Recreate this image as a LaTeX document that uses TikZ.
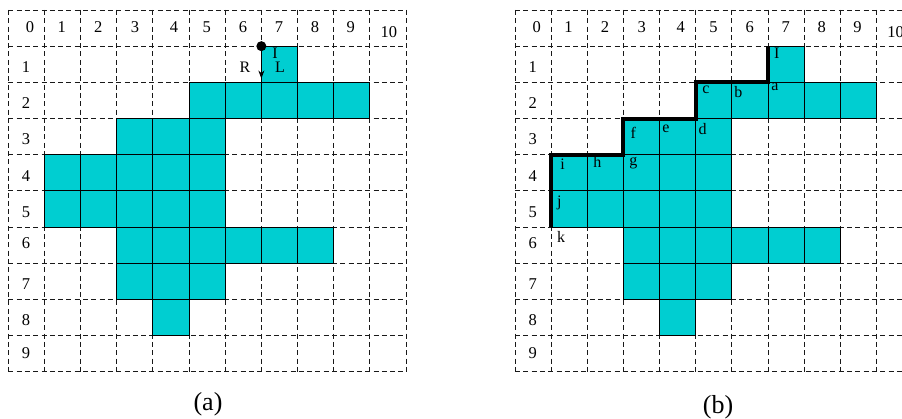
\documentclass[tikz,border=0pt]{standalone}
\usepackage{fontspec}
\setmainfont{Liberation Serif}
\usetikzlibrary{arrows.meta}
\definecolor{cyanfill}{RGB}{0,206,209}
\begin{document}
\begin{tikzpicture}[x=1pt,y=-1pt,
  gridline/.style={dash pattern=on 5pt off 3.3pt, line width=0.9pt, black!90},
  cellbox/.style={fill=cyanfill, draw=black, line width=0.9pt},
  lbl/.style={inner sep=0pt, font=\fontsize{16.5}{18}\selectfont},
  ltr/.style={inner sep=0pt, font=\fontsize{16}{18}\selectfont},
  captext/.style={inner sep=0pt, font=\fontsize{26}{28}\selectfont},
  boundary/.style={line width=4pt, line join=miter, line cap=butt},
  dotnode/.style={circle, fill=black, inner sep=0pt, minimum size=10pt}]
\useasboundingbox (0,0) rectangle (902,419);
\clip (0,0) rectangle (902,419);
\foreach \p/\xo in {a/8.3, b/515} {
  \foreach \i in {0,...,11}
    \draw[gridline] ({\xo+36.15*\i},10) -- ({\xo+36.15*\i},371.7);
  \foreach \j in {0,...,10}
    \draw[gridline] (\xo,{10+36.17*\j}) -- ({\xo+36.15*11},{10+36.17*\j});
  \foreach \c/\r in {7/1, 5/2,6/2,7/2,8/2,9/2, 3/3,4/3,5/3,
                     1/4,2/4,3/4,4/4,5/4, 1/5,2/5,3/5,4/5,5/5,
                     3/6,4/6,5/6,6/6,7/6,8/6, 3/7,4/7,5/7, 4/8}
    \draw[cellbox] ({\xo+36.15*\c},{10+36.17*\r}) rectangle +(36.15,36.17);
  \foreach \i/\lx in {0/21.7,1/53.4,2/90,3/126.7,4/165.7,5/198.4,6/234.7,7/270.7,8/306.7,9/342.4}
    \node[lbl] (\p col\i) at ({\xo+\lx},26.7) {\i};
  \node[lbl] (\p col10) at ({\xo+380.5},31.7) {10};
  \foreach \j/\ly in {1/66.7,2/102.7,3/138.7,4/175.7,5/212.3,6/243.3,7/284.3,8/320,9/353.3}
    \node[lbl] (\p row\j) at ({\xo+17.7},\ly) {\j};
}
% panel (a) annotations
\node[dotnode] (dot) at (261.35,46.17) {};
\coordinate (arrend) at (261.35,78.5);
\draw[line width=0.9pt, -{Stealth[length=8pt,width=6pt]}] (dot.center) -- (arrend);
\node[ltr] (aI) at (275,53) {I};
\node[ltr] (aR) at (245,67) {R};
\node[ltr] (aL) at (280,67) {L};
\node[captext] (capa) at (208,404) {(a)};
% panel (b) boundary
\coordinate (p0) at (768.05,46.17);
\coordinate (p1) at (768.05,82.34);
\coordinate (p2) at (695.75,82.34);
\coordinate (p3) at (695.75,118.51);
\coordinate (p4) at (623.45,118.51);
\coordinate (p5) at (623.45,154.68);
\coordinate (p6) at (551.15,154.68);
\coordinate (p7) at (551.15,227.02);
\draw[boundary] (p0) -- (p1) -- (p2) -- (p3) -- (p4) -- (p5) -- (p6) -- (p7);
\node[ltr] (bI) at (776.7,53.3) {I};
\node[ltr] (ba) at (775,87.3) {a};
\node[ltr] (bb) at (738.3,91.7) {b};
\node[ltr] (bc) at (706,90) {c};
\node[ltr] (bd) at (702.7,129.3) {d};
\node[ltr] (be) at (666,129.3) {e};
\node[ltr] (bf) at (633.3,132.7) {f};
\node[ltr] (bg) at (633.3,163.3) {g};
\node[ltr] (bh) at (597.3,161.7) {h};
\node[ltr] (bi) at (562.7,164.3) {i};
\node[ltr] (bj) at (559.3,203.3) {j};
\node[ltr] (bk) at (561,237.3) {k};
\node[captext] (capb) at (718,407) {(b)};
\end{tikzpicture}
\end{document}
